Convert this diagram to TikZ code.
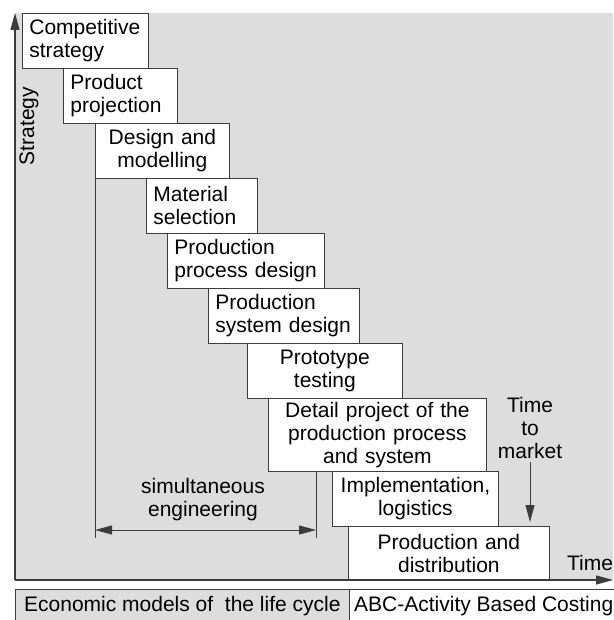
\documentclass[tikz,border=0pt]{standalone}
\usepackage{fontspec}
\setmainfont{Liberation Sans}
\usetikzlibrary{arrows.meta}
\definecolor{bggray}{RGB}{221,221,221}
\definecolor{linegray}{RGB}{60,60,60}
\hyphenpenalty=10000
\exhyphenpenalty=10000
\begin{document}
\begin{tikzpicture}[x=1pt, y=-1pt,
    font=\fontsize{21}{23}\selectfont,
    stageL/.style = {draw=linegray, line width=0.8pt, fill=white, anchor=north west,
        inner xsep=7pt, inner ysep=0pt, align=left, minimum height=55pt},
    stageC/.style = {draw=linegray, line width=0.8pt, fill=white, anchor=north west,
        inner xsep=3pt, inner ysep=0pt, align=center, minimum height=55pt},
    tip/.style = {-{Triangle[length=17pt,width=9pt]}},
    axis/.style = {draw=linegray, line width=1.2pt, tip},
    guide/.style = {draw=linegray, line width=0.8pt}]
    \useasboundingbox (0,0) rectangle (613,620);
    \fill[bggray] (15,13) rectangle (613,580);

    \node[stageL, text width=112pt] (1) at (22,13) {Competitive\\strategy};
    \node[stageL, text width=100pt] (2) at (63,68) {Product\\projection};
    \node[stageC, text width=128pt] (3) at (95,123) {Design and\\modelling};
    \node[stageL, text width=97pt] (4) at (146,178) {Material\\selection};
    \node[stageL, text width=143pt] (5) at (167,233) {Production\\process design};
    \node[stageL, text width=137pt] (6) at (208,288) {Production\\system design};
    \node[stageC, text width=149pt] (7) at (247,343) {Prototype\\testing};
    \node[stageC, text width=212pt, minimum height=73pt] (8) at (268,398) {Detail project of the\\production process\\and system};
    \node[stageC, text width=160pt] (9) at (332,471) {Implementation,\\logistics};
    \node[stageC, text width=195pt, minimum height=54pt] (10) at (348,526) {Production and\\distribution};

    \coordinate (o) at (15,580);
    \coordinate (ytop) at (15,13);
    \coordinate (xend) at (613,580);
    \draw[axis] (o) -- (ytop);
    \draw[axis] (o) -- (xend);
    \node[rotate=90] (sy) at (29,126) {Strategy};
    \node (tx) at (590,563) {Time};

    \coordinate (se1) at (95,538);
    \coordinate (se2) at (316,538);
    \draw[guide] (3.south west) -- (se1);
    \draw[guide] (se2 |- 8.south) -- (se2);
    \coordinate (sa) at (95,530);
    \coordinate (sb) at (316,530);
    \draw[guide, {Triangle[length=17pt,width=9pt]}-{Triangle[length=17pt,width=9pt]}] (sa) -- (sb);
    \node[align=center] (se) at (203,500) {simultaneous\\engineering};

    \node[align=center] (ttm) at (530,428) {Time\\to\\market};
    \draw[guide, tip] (ttm.south) -- (ttm.south |- 10.north) [shorten >=4pt];

    \draw[linegray, line width=0.8pt, fill=bggray] (15,589) rectangle (349,630);
    \draw[linegray, line width=0.8pt, fill=white] (349,589) rectangle (640,630);
    \node[anchor=west, inner sep=0pt] (ec) at (24,606) {Economic models of\ \ the life cycle};
    \node[anchor=west, inner sep=0pt] (abc) at (354,606) {ABC-Activity Based Costing};
\end{tikzpicture}
\end{document}
